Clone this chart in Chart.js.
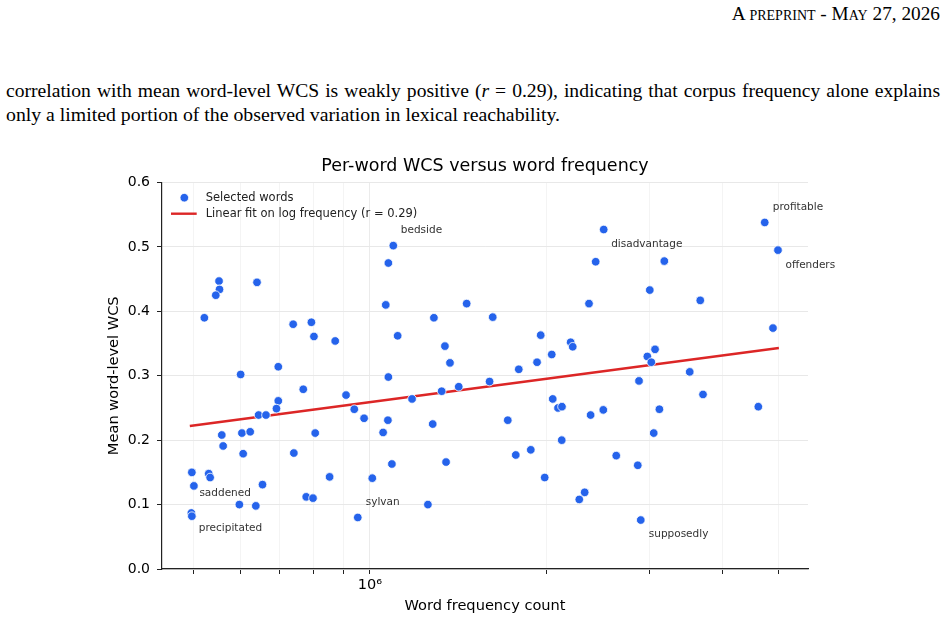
<!DOCTYPE html>
<html>
<head>
<meta charset="utf-8">
<script src="https://cdn.jsdelivr.net/npm/chart.js@4.4.1/dist/chart.umd.min.js"></script>
<style>
    body { margin: 0; background: #fff; width: 948px; height: 622px; overflow: hidden; position: relative; font-family: "Liberation Serif", serif; color: #000; }
    .header { position: absolute; top: 3px; right: 8px; font-size: 19.3px; line-height: 22px; font-variant: small-caps; white-space: nowrap; }
    .line1 { position: absolute; top: 80px; left: 6px; width: 934px; font-size: 19.6px; line-height: 22px; white-space: nowrap; text-align: justify; text-align-last: justify; }
    .line2 { position: absolute; top: 103px; left: 6px; font-size: 19.8px; line-height: 22px; white-space: nowrap; }
    #chart-wrap { position: absolute; left: 0; top: 141px; width: 948px; height: 481px; }
</style>
</head>
<body>
<div class="header">A preprint - May 27, 2026</div>
<div class="line1">correlation with mean word-level WCS is weakly positive (<i>r</i> = 0.29), indicating that corpus frequency alone explains</div>
<div class="line2">only a limited portion of the observed variation in lexical reachability.</div>
<div id="chart-wrap"><canvas id="grafica" width="948" height="481"></canvas></div>

<script>
// frecuencia de cada palabra (eje x, escala log) y WCS medio (eje y)
const wordFreq = [
    552000, 553000, 545000, 641000, 521000, 739000, 794000, 802000, 872000, 697000,
    601000, 1096000, 1075000, 1064000, 1463000, 1286000, 1621000, 1115000, 1343000, 1370000,
    1958000, 2203000, 2221000, 2045000, 1930000, 1796000, 1075000, 1601000, 2368000, 2431000,
    2509000, 3185000, 3008000, 3669000, 4729000, 4982000, 4885000, 3071000, 2979000, 3026000,
    3520000, 2883000, 769000, 697000, 692000, 645000, 664000, 910000, 940000, 977000,
    1053000, 558000, 604000, 624000, 806000, 561000, 607000, 741000, 496000, 530000,
    533000, 500000, 655000, 853000, 1009000, 598000, 638000, 778000, 799000, 495000,
    496000, 953000, 1180000, 1326000, 1418000, 1073000, 1280000, 1090000, 1349000, 1256000,
    1720000, 2053000, 2096000, 2129000, 2383000, 2127000, 1775000, 1883000, 1989000, 2279000,
    2328000, 2505000, 3124000, 3709000, 4611000, 3055000, 2636000, 2869000, 2903000
];
const meanWcs = [
    0.447, 0.434, 0.425, 0.445, 0.390, 0.380, 0.383, 0.361, 0.354, 0.314,
    0.302, 0.502, 0.475, 0.410, 0.412, 0.390, 0.391, 0.362, 0.346, 0.320,
    0.363, 0.352, 0.345, 0.333, 0.321, 0.310, 0.298, 0.291, 0.412, 0.477,
    0.527, 0.478, 0.433, 0.417, 0.538, 0.495, 0.374, 0.341, 0.330, 0.321,
    0.306, 0.292, 0.279, 0.261, 0.249, 0.239, 0.239, 0.270, 0.248, 0.234,
    0.212, 0.208, 0.211, 0.213, 0.211, 0.191, 0.179, 0.180, 0.150, 0.148,
    0.142, 0.129, 0.131, 0.143, 0.141, 0.100, 0.098, 0.112, 0.110, 0.087,
    0.082, 0.080, 0.264, 0.276, 0.283, 0.231, 0.225, 0.163, 0.166, 0.100,
    0.231, 0.264, 0.250, 0.252, 0.239, 0.200, 0.177, 0.185, 0.142, 0.108,
    0.119, 0.247, 0.248, 0.271, 0.252, 0.211, 0.176, 0.161, 0.076
];

// palabras anotadas y el indice del punto al que pertenecen
const labelWords = ['bedside', 'disadvantage', 'profitable', 'offenders', 'saddened', 'precipitated', 'sylvan', 'supposedly'];
const labelIndex = [11, 30, 34, 35, 61, 69, 71, 98];

// recta de ajuste (extremos)
const fitX = [492000, 5000000];
const fitY = [0.222, 0.343];

const xTicks = [5e5, 6e5, 7e5, 8e5, 9e5, 1e6, 2e6, 3e6, 4e6, 5e6];
const yTicks = [0, 0.1, 0.2, 0.3, 0.4, 0.5, 0.6];

const pointColor = '#2563eb';
const lineColor = '#dc2626';
const fontFamily = '"DejaVu Sans", sans-serif';

// desplazamiento del texto respecto al punto, en pixeles
const labelOffset = {
    bedside: [7.5, -15], disadvantage: [7.5, 15], profitable: [8, -15.5], offenders: [7.5, 15.5],
    saddened: [5.5, 7.5], precipitated: [7.5, 15.5], sylvan: [8, -15.5], supposedly: [8, 14]
};

const wordLabels = {
    id: 'wordLabels',
    afterDatasetsDraw(chart) {
        const ctx = chart.ctx;
        const puntos = chart.getDatasetMeta(0).data;
        ctx.save();
        ctx.font = '10.5px ' + fontFamily;
        ctx.fillStyle = '#333333';
        ctx.textAlign = 'left';
        ctx.textBaseline = 'middle';
        labelWords.forEach((w, i) => {
            const p = puntos[labelIndex[i]];
            const off = labelOffset[w];
            ctx.fillText(w, p.x + off[0], p.y + off[1]);
        });
        ctx.restore();
    }
};

// leyenda dentro del area del grafico, arriba a la izquierda
const legendBox = {
    id: 'legendBox',
    afterDatasetsDraw(chart) {
        const ctx = chart.ctx;
        const x = chart.chartArea.left;
        const y = chart.chartArea.top;
        ctx.save();
        ctx.beginPath();
        ctx.arc(x + 22.3, y + 15.2, 4.3, 0, Math.PI * 2);
        ctx.fillStyle = pointColor;
        ctx.fill();
        ctx.strokeStyle = '#ffffff';
        ctx.lineWidth = 0.8;
        ctx.stroke();
        ctx.beginPath();
        ctx.moveTo(x + 9, y + 31.2);
        ctx.lineTo(x + 34.7, y + 31.2);
        ctx.strokeStyle = lineColor;
        ctx.lineWidth = 2.4;
        ctx.stroke();
        ctx.font = '11.5px ' + fontFamily;
        ctx.fillStyle = '#222222';
        ctx.textBaseline = 'middle';
        ctx.fillText(chart.data.datasets[0].label, x + 43.7, y + 15.2);
        ctx.fillText(chart.data.datasets[1].label, x + 43.7, y + 31.2);
        ctx.restore();
    }
};

const ctx = document.getElementById('grafica').getContext('2d');
new Chart(ctx, {
    type: 'scatter',
    data: {
        datasets: [{
            label: 'Selected words',
            data: wordFreq.map((f, i) => ({ x: f, y: meanWcs[i] })),
            backgroundColor: pointColor,
            borderColor: '#ffffff',
            borderWidth: 0.8,
            pointRadius: 4.3,
            order: 0
        }, {
            type: 'line',
            label: 'Linear fit on log frequency (r = 0.29)',
            data: fitX.map((f, i) => ({ x: f, y: fitY[i] })),
            borderColor: lineColor,
            borderWidth: 2.4,
            pointRadius: 0,
            fill: false,
            order: 1
        }]
    },
    options: {
        responsive: false,
        animation: false,
        layout: { padding: { left: 100, right: 140, top: 0, bottom: 0 } },
        plugins: {
            legend: { display: false },
            tooltip: { enabled: false },
            title: {
                display: true,
                fullSize: false,
                text: 'Per-word WCS versus word frequency',
                color: '#000000',
                font: { family: fontFamily, size: 17.5, weight: 'normal' },
                padding: { top: 15, bottom: 5.5 }
            }
        },
        scales: {
            x: {
                type: 'logarithmic',
                min: 441000,
                max: 5607000,
                afterBuildTicks: function (scale) {
                    scale.ticks = xTicks.map(v => ({ value: v, major: v === 1e6 }));
                },
                afterFit: function (scale) { scale.height = 53; },
                ticks: {
                    autoSkip: false,
                    maxRotation: 0,
                    padding: 3,
                    color: '#000000',
                    font: { family: fontFamily, size: 14.5 },
                    callback: function (v) { return v === 1e6 ? '10⁶' : ''; }
                },
                grid: {
                    color: function (c) { return c.tick && c.tick.value === 1e6 ? '#ebebeb' : '#f4f4f4'; },
                    lineWidth: 1,
                    tickLength: 5,
                    tickColor: '#222222'
                },
                border: { color: '#222222', width: 1.2 },
                title: {
                    display: true,
                    text: 'Word frequency count',
                    color: '#000000',
                    font: { family: fontFamily, size: 14.6 },
                    padding: { top: 0, bottom: 7.2 }
                }
            },
            y: {
                min: 0,
                max: 0.6,
                afterBuildTicks: function (scale) {
                    scale.ticks = yTicks.map(v => ({ value: v }));
                },
                afterFit: function (scale) { scale.width = 62; },
                ticks: {
                    padding: 7,
                    color: '#000000',
                    font: { family: fontFamily, size: 14 },
                    callback: function (v) { return v.toFixed(1); }
                },
                grid: {
                    color: '#e8e8e8',
                    lineWidth: 1,
                    tickLength: 5,
                    tickColor: '#222222'
                },
                border: { color: '#222222', width: 1.2 },
                title: {
                    display: true,
                    text: 'Mean word-level WCS',
                    color: '#000000',
                    font: { family: fontFamily, size: 14.6 },
                    padding: { top: 5, bottom: 0 }
                }
            }
        }
    },
    plugins: [wordLabels, legendBox]
});
</script>
</body>
</html>
